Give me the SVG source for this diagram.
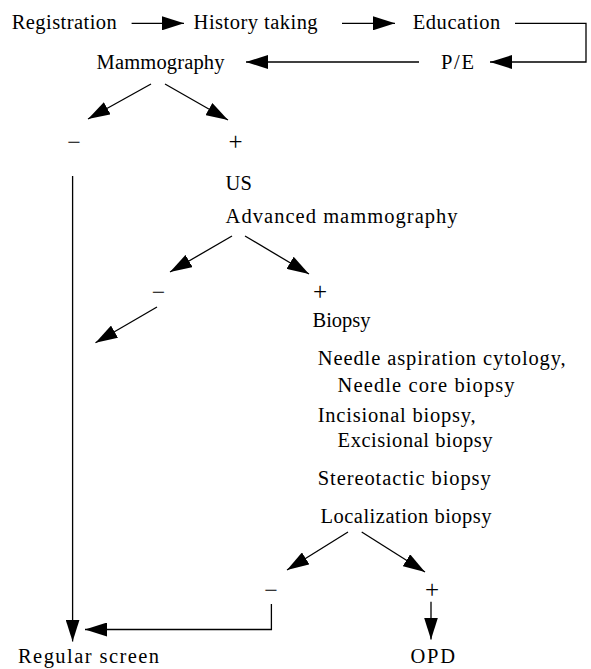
<svg xmlns="http://www.w3.org/2000/svg" width="591" height="669" viewBox="0 0 591 669">
<style>
text{font-family:"Liberation Serif","Times New Roman",serif;font-size:20.5px;fill:#000}
.m{font-size:24px;text-anchor:middle}
.p{font-size:25px;text-anchor:middle}
.c{fill:none;stroke:#000;stroke-width:1.3}
</style>
<defs>
<marker id="ah" markerUnits="userSpaceOnUse" markerWidth="22" markerHeight="14" refX="22" refY="7" orient="auto" viewBox="0 0 22 14">
<path d="M0,0 L22,7 L0,14 z" fill="#000"/>
</marker>
</defs>
<rect width="591" height="669" fill="#fff"/>
<g id="connectors">
<path class="c" d="M131.6,23.3 H184" marker-end="url(#ah)"/>
<path class="c" d="M342,23.3 H395" marker-end="url(#ah)"/>
<path class="c" d="M515,23.3 H586 V62 H490" marker-end="url(#ah)"/>
<path class="c" d="M419,62 H246" marker-end="url(#ah)"/>
<path class="c" d="M151,84 L88,119" marker-end="url(#ah)"/>
<path class="c" d="M165,84 L228,120" marker-end="url(#ah)"/>
<path class="c" d="M72.6,176 V641.5" marker-end="url(#ah)"/>
<path class="c" d="M232,236 L170,272" marker-end="url(#ah)"/>
<path class="c" d="M245,236 L309,274" marker-end="url(#ah)"/>
<path class="c" d="M157,307 L95.5,342.7" marker-end="url(#ah)"/>
<path class="c" d="M348,532 L287,570" marker-end="url(#ah)"/>
<path class="c" d="M361.7,532 L425,572" marker-end="url(#ah)"/>
<path class="c" d="M271.4,604 V629.5 H85" marker-end="url(#ah)"/>
<path class="c" d="M431,601.7 V639.5" marker-end="url(#ah)"/>
</g>
<g id="registration"><text x="11.7" y="29" textLength="105" lengthAdjust="spacing">Registration</text></g>
<g id="history"><text x="193.6" y="29" textLength="124" lengthAdjust="spacing">History taking</text></g>
<g id="education"><text x="412.7" y="29" textLength="87.6" lengthAdjust="spacing">Education</text></g>
<g id="pe"><text x="441" y="69" textLength="33" lengthAdjust="spacing">P/E</text></g>
<g id="mammography"><text x="96.5" y="69" textLength="128" lengthAdjust="spacing">Mammography</text></g>
<g id="neg1"><text x="74" y="149.5" class="m">−</text></g>
<g id="pos1"><text x="235.5" y="150" class="p">+</text></g>
<g id="us"><text x="225.6" y="189.5">US</text></g>
<g id="advanced"><text x="225.6" y="222.5" textLength="232" lengthAdjust="spacing">Advanced mammography</text></g>
<g id="neg2"><text x="158.5" y="299.5" class="m">−</text></g>
<g id="pos2"><text x="320" y="300" class="p">+</text></g>
<g id="biopsy"><text x="312.5" y="327" textLength="58" lengthAdjust="spacing">Biopsy</text></g>
<g id="needle">
<text x="317.7" y="365" textLength="248" lengthAdjust="spacing">Needle aspiration cytology,</text>
<text x="337.6" y="391.7" textLength="177" lengthAdjust="spacing">Needle core biopsy</text>
</g>
<g id="incisional">
<text x="317.7" y="421.7" textLength="158" lengthAdjust="spacing">Incisional biopsy,</text>
<text x="337.6" y="446.7" textLength="155" lengthAdjust="spacing">Excisional biopsy</text>
</g>
<g id="stereotactic"><text x="317.7" y="485" textLength="173" lengthAdjust="spacing">Stereotactic biopsy</text></g>
<g id="localization"><text x="320.5" y="523" textLength="171" lengthAdjust="spacing">Localization biopsy</text></g>
<g id="neg3"><text x="271" y="597.5" class="m">−</text></g>
<g id="pos3"><text x="432" y="598" class="p">+</text></g>
<g id="regular"><text x="18" y="663" textLength="141" lengthAdjust="spacing">Regular screen</text></g>
<g id="opd"><text x="410.5" y="663" textLength="44.5" lengthAdjust="spacing">OPD</text></g>
</svg>
